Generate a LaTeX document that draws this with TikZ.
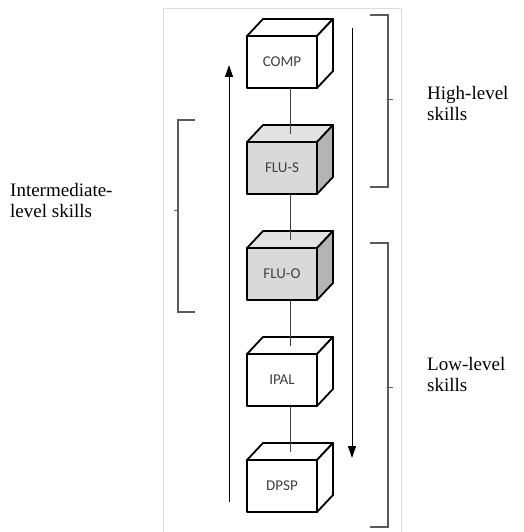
\documentclass[tikz,border=0pt]{standalone}
\usepackage{fontspec}
\setmainfont{Liberation Serif}
\newfontfamily\boxfont{Carlito}
\usepackage{tikz}
\usetikzlibrary{arrows.meta,positioning,calc}
\definecolor{boxgrey}{HTML}{D9D9D9}
\definecolor{topgrey}{HTML}{E2E2E2}
\definecolor{sidegrey}{HTML}{B4B4B4}
\definecolor{labgrey}{HTML}{404040}
\definecolor{framegrey}{HTML}{DCDCDC}
\definecolor{brgrey}{HTML}{595959}

\begin{document}
\begin{tikzpicture}[x=1pt,y=1pt,>={Triangle[length=12pt,width=8pt]},node distance=54pt,
 cube/.style={draw,line width=1.8pt,line join=round,outer sep=0pt,inner sep=0pt,minimum width=70pt,minimum height=52pt,font=\boxfont\fontsize{15}{17}\selectfont,text=labgrey},
 face/.style={draw,line width=1.8pt,line join=round},
 link/.style={line width=1pt,labgrey},
 flow/.style={->,line width=1pt},
 brace/.style={line width=1.3pt,brgrey},
 skill/.style={align=left,anchor=west,inner sep=0pt,font=\fontsize{19}{21}\selectfont}]
 \useasboundingbox (0,0) rectangle (523,-532);
 \draw[framegrey,line width=1pt] (163,-532)|-(401,-9)--(401,-532);
 % the five skill cubes
 \node[cube,fill=white] (comp) at (282,-62) {COMP};
 \node[cube,fill=boxgrey,below=of comp] (flus) {FLU-S};
 \node[cube,fill=boxgrey,below=of flus] (fluo) {FLU-O};
 \node[cube,fill=white,below=of fluo] (ipal) {IPAL};
 \node[cube,fill=white,below=of ipal] (dpsp) {DPSP};
 \foreach \n/\tp/\sd in {comp/white/white,flus/topgrey/sidegrey,fluo/topgrey/sidegrey,ipal/white/white,dpsp/white/white}{
  \filldraw[face,fill=\tp] (\n.north west)--++(16,17)--++(70,0)--(\n.north east)--cycle;
  \filldraw[face,fill=\sd] (\n.north east)--++(16,17)--++(0,-52)--(\n.south east)--cycle;}
 \foreach \a/\b in {comp/flus,flus/fluo,fluo/ipal,ipal/dpsp}
  \draw[link] ($(\a.south)+(8,0)$)--($(\b.north)+(8,8.5)$);
 % up and down arrows
 \coordinate (upfoot) at (229,-502); \coordinate (uphead) at (229,-65);
 \coordinate (downfoot) at (352,-28); \coordinate (downhead) at (352,-458);
 \draw[flow] (upfoot)--(uphead);
 \draw[flow] (downfoot)--(downhead);
 % brackets
 \draw[brace] (370,-15)-|(388,-187)--(370,-187);
 \draw[brace,line width=.8pt] (388,-99)--(393,-99);
 \draw[brace] (370,-243)-|(388,-527)--(370,-527);
 \draw[brace,line width=.8pt] (388,-387)--(393,-387);
 \draw[brace] (195,-120)-|(178,-312)--(195,-312);
 \draw[brace,line width=.8pt] (178,-210)--(174,-210);
 \node[skill] (inter) at (10,-200) {Intermediate-\\level skills};
 \node[skill] (high) at (427,-104) {High-level\\skills};
 \node[skill] (low) at (427,-374) {Low-level\\skills};
\end{tikzpicture}
\end{document}
